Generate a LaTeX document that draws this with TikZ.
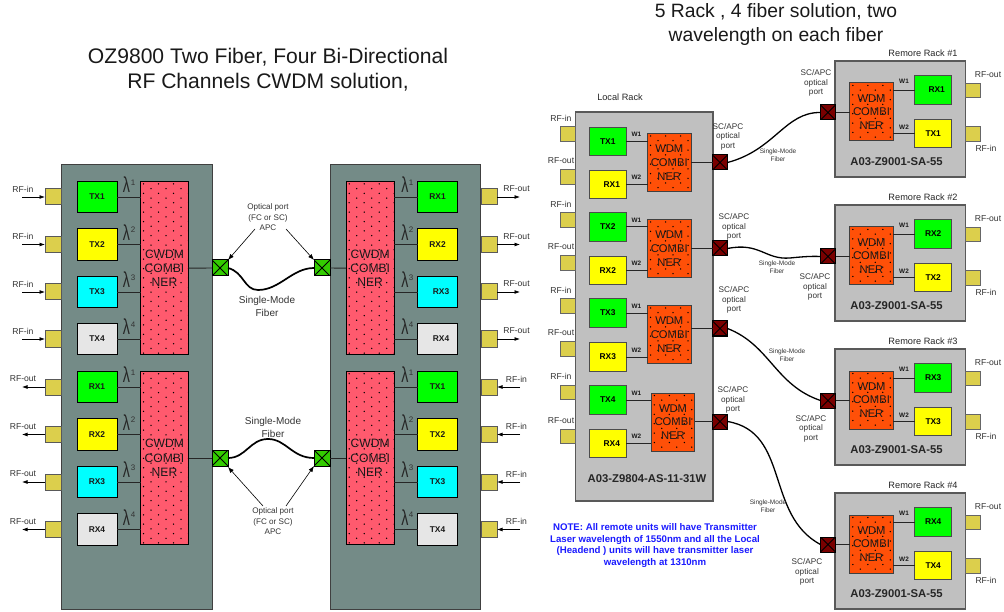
\documentclass[tikz,border=0pt]{standalone}
\usepackage{fontspec}
\setmainfont{Liberation Sans}
\usetikzlibrary{arrows.meta}
\definecolor{panelc}{HTML}{748B87}
\definecolor{rackc}{HTML}{C0C0C0}
\definecolor{pinkc}{HTML}{FF5A6E}
\definecolor{orangec}{HTML}{FF5008}
\definecolor{portc}{HTML}{DCCF4C}
\definecolor{gportc}{HTML}{33CC00}
\definecolor{rportc}{HTML}{7A0000}
\definecolor{greyc}{HTML}{E6E6E6}
\definecolor{txtc}{HTML}{333333}
\definecolor{notec}{HTML}{1A1AFF}
\definecolor{ugreen}{HTML}{00FF00}
\definecolor{uyellow}{HTML}{FFFF00}
\definecolor{ucyan}{HTML}{00FFFF}
\newcommand{\fs}[2]{\fontsize{#1}{#2}\selectfont}
\tikzset{
  x=1pt,y=-1pt,
  every node/.style={inner sep=0pt,outer sep=0pt,text=txtc},
  box/.style={draw=#1,line width=1pt,rectangle},
  panel/.style={box=black!75,fill=panelc,minimum width=150.5,minimum height=444},
  lrack/.style={box=black!65,fill=rackc,line width=1.1pt,minimum width=137.5,minimum height=389},
  rrack/.style={box=black!65,fill=rackc,line width=1.1pt,minimum width=130.5,minimum height=116},
  unitl/.style={box=black,minimum width=40,minimum height=31.5,font=\bfseries\fs{8.4}{10},text=black!90},
  unitr/.style={box=black!70,minimum width=36.5,minimum height=28.5,font=\bfseries\fs{8.4}{10},text=black},
  stip/.style={path picture={
    \foreach \i in {0,...,38}{
      \pgfmathsetmacro{\off}{mod(\i,2)*7.5+3}
      \pgfmathsetmacro{\rowy}{\i*4.7+2.5}
      \foreach \j in {0,...,6}{
        \pgfmathsetmacro{\colx}{\off+\j*15}
        \fill[black] ([xshift=\colx pt,yshift=-\rowy pt]path picture bounding box.north west) circle (.75);
      }}}},
  cwdm/.style={box=black,fill=pinkc,stip,minimum width=48,minimum height=173.5,align=center,font=\fs{12.1}{14.4},text=black!90},
  wdm/.style={box=black!75,fill=orangec,stip,minimum width=43.5,minimum height=58,align=center,font=\fs{11.2}{13.7},text=black!90},
  yport/.style={box=black!65,fill=portc,minimum width=16,minimum height=16},
  yports/.style={box=black!60,fill=portc,minimum width=14.5,minimum height=14.5},
  xport/.style={box=black,fill=#1,path picture={
    \draw[black,line width=.8pt] (path picture bounding box.north west)--(path picture bounding box.south east)
      (path picture bounding box.north east)--(path picture bounding box.south west);}},
  gport/.style={xport=gportc,minimum width=16,minimum height=16},
  rport/.style={xport=rportc,minimum width=15,minimum height=15},
  conn/.style={draw=black!85,line width=.9pt},
  fiber/.style={draw=black,line width=1.3pt},
  fiberb/.style={draw=black,line width=1.7pt},
  rfarrow/.style={draw=black,line width=.8pt,-{Latex[length=5.5pt,width=4pt]}},
  thinarrow/.style={draw=black,line width=.6pt,-{Latex[length=6pt,width=4.5pt]}},
  rf/.style={font=\fs{8.6}{10}},
  lam/.style={font=\fs{15}{16},text=black!85},
  lamsup/.style={font=\fs{8}{9}},
  wl/.style={font=\bfseries\fs{6.4}{8},text=black!90},
  opt/.style={align=center,font=\fs{8.1}{10.5}},
  sm/.style={align=center,font=\fs{10}{12.5}},
  sc/.style={align=center,font=\fs{8.2}{9.6}},
  sms/.style={align=center,font=\fs{6.5}{7.8}},
  title/.style={align=center,font=\fs{21.1}{24.5},text=black!90},
  title2/.style={align=center,font=\fs{19.3}{23.5},text=black!90},
  rackname/.style={font=\fs{9.2}{11},text=black!85},
  model/.style={font=\bfseries\fs{11.3}{13},text=black!85},
  note/.style={align=center,font=\bfseries\fs{9.65}{11.8},text=notec},
}
\newcommand{\biglam}{\scalebox{0.95}[1.45]{λ}}
\begin{document}
\begin{tikzpicture}
\useasboundingbox (0,0) rectangle (1004,612);
% titles
\node[title] (t1) at (268,69.5) {OZ9800 Two Fiber, Four Bi-Directional\\RF Channels CWDM solution,};
\node[title2] (t2) at (776,24.5) {5 Rack , 4 fiber solution, two\\wavelength on each fiber};
% ---------- left system ----------
\node[panel] (pl) at (136.75,387) {};
\node[panel] (pr) at (405.5,387) {};
\node[cwdm] (clu) at (164.5,268.2) {CWDM\\COMBI\\NER};
\node[cwdm] (cll) at (164.5,458) {CWDM\\COMBI\\NER};
\node[cwdm] (cru) at (370.2,268.2) {CWDM\\COMBI\\NER};
\node[cwdm] (crl) at (370.2,458) {CWDM\\COMBI\\NER};
\node[gport] (glu) at (220,268) {};
\node[gport] (gll) at (220,458) {};
\node[gport] (gru) at (322,268) {};
\node[gport] (grl) at (322,458) {};
\draw[conn] (clu.east)--(glu.west);
\draw[conn] (cll.east)--(gll.west);
\draw[conn] (cru.west)--(gru.east);
\draw[conn] (crl.west)--(grl.east);
% left column
\foreach \nm/\y/\txt/\col/\cb/\k/\rftxt/\dirn in {
 a/197/TX1/ugreen/clu/1/RF-in/in,
 b/244.5/TX2/uyellow/clu/2/RF-in/in,
 c/292/TX3/ucyan/clu/3/RF-in/in,
 d/339/TX4/greyc/clu/4/RF-in/in,
 e/387/RX1/ugreen/cll/1/RF-out/out,
 f/434.5/RX2/uyellow/cll/2/RF-out/out,
 g/482/RX3/ucyan/cll/3/RF-out/out,
 h/529.5/RX4/greyc/cll/4/RF-out/out}{
  \node[unitl,fill=\col] (l\nm) at (97,\y) {\txt};
  \draw[conn] (l\nm.east)--(l\nm.east -| \cb.west);
  \node[lam] (ll\nm) at (126.5,\y-12) {\biglam};
  \node[lamsup] (ls\nm) at (133,\y-14.5) {\k};
  \node[yport] (lp\nm) at (53,\y) {};
  \node[rf] (lr\nm) at (23,\y-8) {\rftxt};
  \coordinate (lc\nm) at (22,\y);
  \ifnum\pdfstrcmp{\dirn}{in}=0
    \draw[rfarrow] (lc\nm)--(lp\nm.west);
  \else
    \draw[rfarrow] (lp\nm.west)--(lc\nm);
  \fi
}
% right column
\foreach \nm/\y/\txt/\col/\cb/\k/\rftxt/\dirn/\pad in {
 a/197/RX1/ugreen/cru/1/RF-out/out/0,
 b/244.5/RX2/uyellow/cru/2/RF-out/out/0,
 c/292/RX3/ucyan/cru/3/RF-out/out/7,
 d/339/RX4/greyc/cru/4/RF-out/out/7,
 e/387/TX1/ugreen/crl/1/RF-in/in/0,
 f/434.5/TX2/uyellow/crl/2/RF-in/in/0,
 g/482/TX3/ucyan/crl/3/RF-in/in/0,
 h/529.5/TX4/greyc/crl/4/RF-in/in/0}{
  \node[unitl,fill=\col] (r\nm) at (437.5,\y) {\hspace*{\pad pt}\txt};
  \draw[conn] (r\nm.west)--(r\nm.west -| \cb.east);
  \node[lam] (rl\nm) at (405,\y-12) {\biglam};
  \node[lamsup] (rs\nm) at (411,\y-14.5) {\k};
  \node[yport] (rp\nm) at (489,\y) {};
  \node[rf] (rr\nm) at (516.5,\y-8) {\rftxt};
  \coordinate (rc\nm) at (520,\y);
  \ifnum\pdfstrcmp{\dirn}{in}=0
    \draw[rfarrow] (rc\nm)--(rp\nm.east);
  \else
    \draw[rfarrow] (rp\nm.east)--(rc\nm);
  \fi
}
% fibres left
\draw[fiberb] (glu.east) .. controls (244,272) and (244,290) .. (258,290) .. controls (280,290) and (292,268) .. (gru.west);
\draw[fiberb] (gll.east) .. controls (246,458) and (250,439) .. (268,439) .. controls (286,439) and (292,458) .. (grl.west);
\node[opt] (o1) at (268,217.5) {Optical port\\(FC or SC)\\APC};
\node[opt] (o2) at (273,521.5) {Optical port\\(FC or SC)\\APC};
\node[sm] (s1) at (267,306.5) {Single-Mode\\Fiber};
\node[sm] (s2) at (273,427.5) {Single-Mode\\Fiber};
\coordinate (a1) at (255,229);\coordinate (a2) at (286,229);
\coordinate (a3) at (263,506);\coordinate (a4) at (286,506);
\draw[thinarrow] (a1)--(glu.north east);
\draw[thinarrow] (a2)--(gru.north west);
\draw[thinarrow] (a3)--([yshift=-1pt]gll.south east);
\draw[thinarrow] (a4)--(grl.south west);
% ---------- right system ----------
\node[lrack] (loc) at (644.25,306.5) {};
\node[rackname] (lrn) at (620,97) {Local Rack};
\node[model] (lm) at (647,479) {A03-Z9804-AS-11-31W};
\foreach \nm/\x/\y in {1/669.25/162.5,2/669.25/248.5,3/669.25/334.5,4/673/422}{
  \node[wdm] (w\nm) at (\x,\y) {WDM\\COMBI\\NER};
}
\foreach \nm/\y in {1/162.5,2/248.5,3/328.5,4/421.5}{
  \node[rport] (q\nm) at (720,\y) {};
  \draw[conn] (w\nm.east |- q\nm.west)--(q\nm.west);
}
\foreach \nm/\y/\txt/\col/\cb/\wt/\rftxt/\pad/\py in {
 a/141.3/TX1/ugreen/w1/W1/RF-in/0/134,
 b/184.3/RX1/uyellow/w1/W2/RF-out/8/177,
 c/226.8/TX2/ugreen/w2/W1/RF-in/0/220,
 d/270.5/RX2/uyellow/w2/W2/RF-out/0/263,
 e/313/TX3/ugreen/w3/W1/RF-in/0/306,
 f/357/RX3/uyellow/w3/W2/RF-out/0/349,
 g/400/TX4/ugreen/w4/W1/RF-in/0/392.5,
 h/443.5/RX4/uyellow/w4/W2/RF-out/8/436.5}{
  \node[unitr,fill=\col] (u\nm) at (607.75,\y) {\hspace*{\pad pt}\txt};
  \draw[conn] (u\nm.east)--(u\nm.east -| \cb.west);
  \node[wl] (uw\nm) at (636.5,\y-7) {\wt};
  \node[yports] (up\nm) at (568,\py) {};
  \node[rf] (ur\nm) at (561,\py-16) {\rftxt};
}
% remote racks
\foreach \k/\dy/\txt/\txb/\pad in {1/0/RX1/TX1/7,2/144/RX2/TX2/0,3/288/RX3/TX3/0,4/432/RX4/TX4/0}{
  \node[rrack] (rk\k) at (900.25,119+\dy) {};
  \node[rackname] (rn\k) at (923,53+\dy) {Remore Rack \#\k};
  \node[wdm] (rw\k) at (871.5,112+\dy) {WDM\\COMBI\\NER};
  \node[unitr,fill=ugreen] (ra\k) at (933.2,90+\dy) {\hspace*{\pad pt}\txt};
  \node[unitr,fill=uyellow] (rb\k) at (933.2,133.5+\dy) {\txb};
  \draw[conn] (ra\k.west)--(ra\k.west -| rw\k.east);
  \draw[conn] (rb\k.west)--(rb\k.west -| rw\k.east);
  \node[wl] (rwa\k) at (904,81+\dy) {W1};
  \node[wl] (rwb\k) at (904,127+\dy) {W2};
  \node[rport] (rq\k) at (828,112.5+\dy) {};
  \draw[conn] (rq\k.east)--(rw\k.west |- rq\k.east);
  \node[yports] (ry\k) at (973,90.5+\dy) {};
  \node[yports] (rz\k) at (973,134+\dy) {};
  \node[rf] (rt\k) at (988,75+\dy) {RF-out};
  \node[rf] (ru\k) at (986,148+\dy) {RF-in};
  \node[model] (rm\k) at (896.5,162+\dy) {A03-Z9001-SA-55};
}
% fibres right
\draw[fiber] (q1.east) .. controls (775,150) and (785,112) .. (rq1.west);
\draw[fiber] (q2.east) .. controls (760,242) and (765,260) .. (790,258) .. controls (800,257) and (810,256) .. (rq2.west);
\draw[fiber] (q3.east) .. controls (770,345) and (775,385) .. (rq3.west);
\draw[fiber] (q4.east) .. controls (790,432) and (765,515) .. (rq4.west);
% SC/APC labels
\foreach \nm/\x/\y in {1/728/136.5,2/734/227,3/734/300,4/733/400,5/816/83,6/815/287,7/811/428.5,8/807/572}{
  \node[sc] (sc\nm) at (\x,\y) {SC/APC\\optical\\port};
}
% Single-mode small labels
\foreach \nm/\x/\y in {1/778/155.5,2/777/267,3/787/355.5,4/768/506}{
  \node[sms] (sf\nm) at (\x,\y) {Single-Mode\\Fiber};
}
\node[note] (nt) at (655,545.5) {NOTE: All remote units will have Transmitter\\Laser wavelength of 1550nm and all the Local\\(Headend ) units will have transmitter laser\\wavelength at 1310nm};
\end{tikzpicture}
\end{document}
